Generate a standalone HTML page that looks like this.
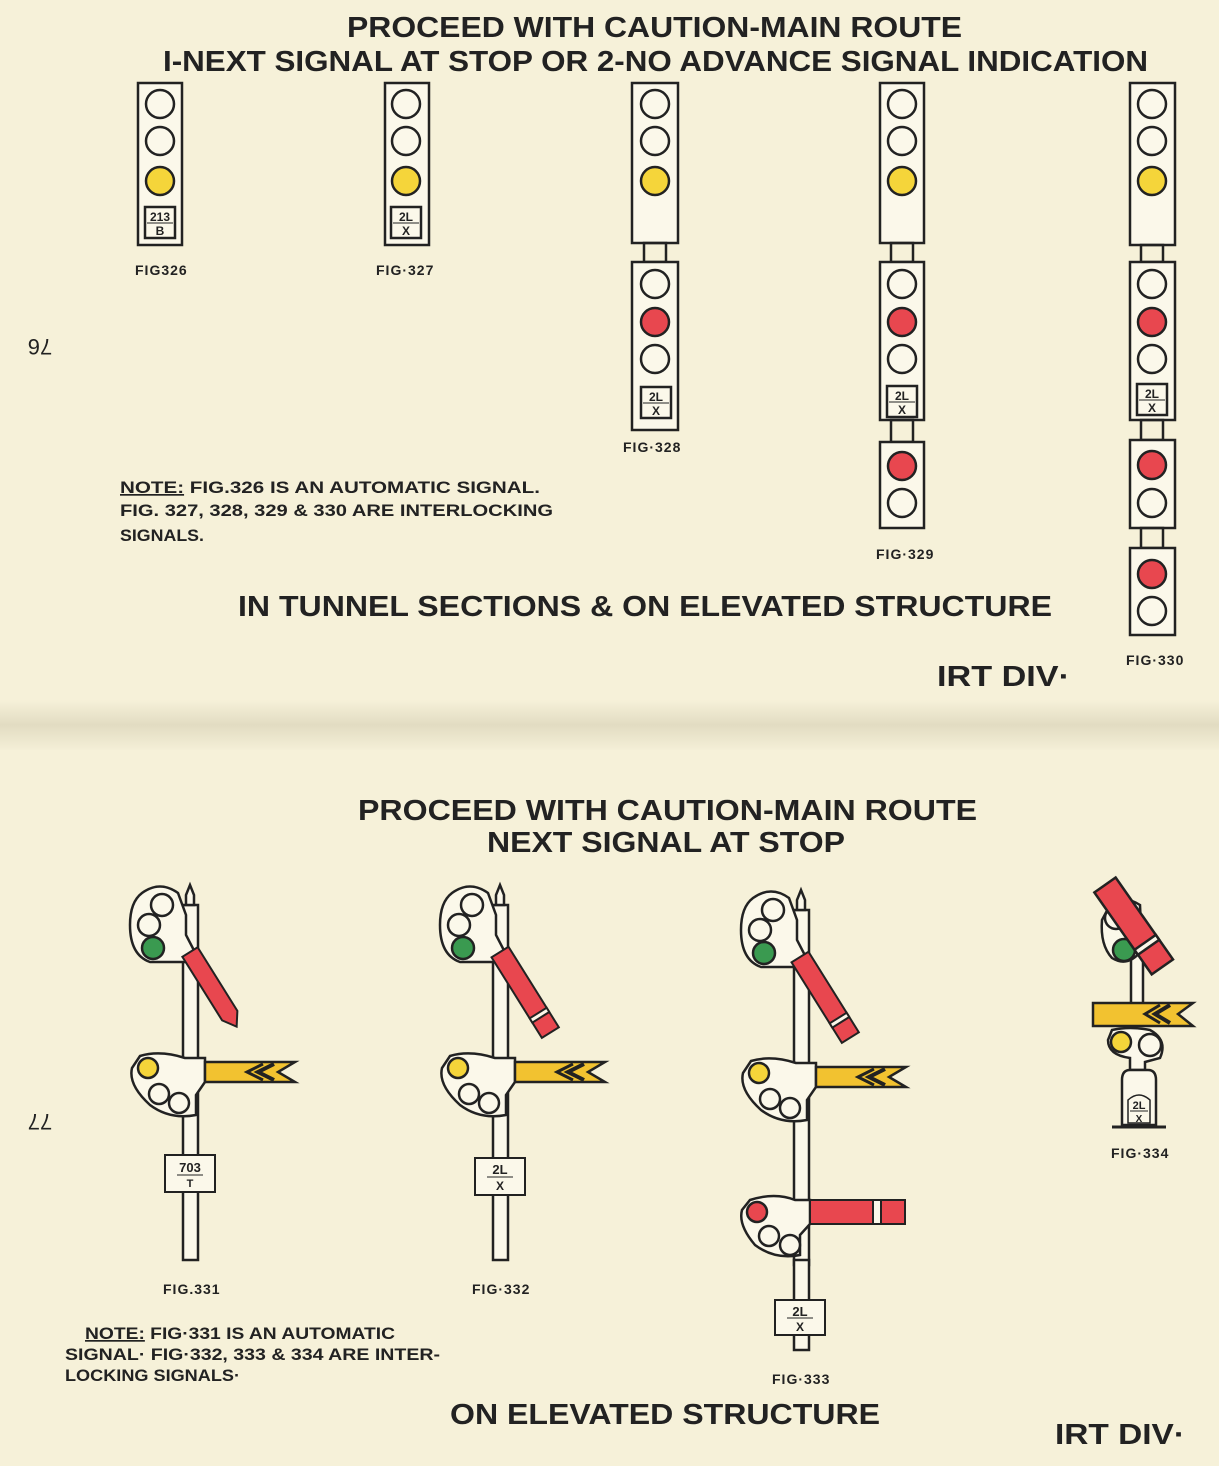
<!DOCTYPE html>
<html><head><meta charset="utf-8"><style>
html,body{margin:0;padding:0;background:#f6f1d9;}
svg{display:block}
text{font-family:"Liberation Sans",sans-serif;fill:#222;}
.t{font-size:29px;font-weight:bold}
.f{font-size:14px;font-weight:bold;letter-spacing:1px}
.n{font-size:17px;font-weight:bold}
</style></head><body>
<svg width="1219" height="1466" viewBox="0 0 1219 1466" xmlns="http://www.w3.org/2000/svg">
<defs>
<linearGradient id="fold" x1="0" y1="0" x2="0" y2="1">
<stop offset="0" stop-color="#f6f1d9"/><stop offset="0.5" stop-color="#e2dcc2"/><stop offset="1" stop-color="#f4efd7"/>
</linearGradient>
</defs>
<rect width="1219" height="1466" fill="#f6f1d9"/>
<rect x="0" y="700" width="1219" height="50" fill="url(#fold)"/>
<g fill="none" stroke="#222" stroke-width="2.5">
<rect x="138" y="83" width="44" height="162" fill="#fbf8ea"/>
<circle cx="160" cy="104" r="14"/><circle cx="160" cy="141" r="14"/>
<circle cx="160" cy="181" r="14" fill="#f5d53a"/>
<rect x="145" y="207" width="30" height="31"/>
<rect x="385" y="83" width="44" height="162" fill="#fbf8ea"/>
<circle cx="406" cy="104" r="14"/><circle cx="406" cy="141" r="14"/>
<circle cx="406" cy="181" r="14" fill="#f5d53a"/>
<rect x="391" y="207" width="30" height="31"/>
<rect x="632" y="83" width="46" height="160" fill="#fbf8ea"/>
<circle cx="655" cy="104" r="14"/><circle cx="655" cy="141" r="14"/>
<circle cx="655" cy="181" r="14" fill="#f5d53a"/>
<rect x="644" y="243" width="22" height="19"/>
<rect x="632" y="262" width="46" height="168" fill="#fbf8ea"/>
<circle cx="655" cy="284" r="14"/><circle cx="655" cy="322" r="14" fill="#e8474f"/>
<circle cx="655" cy="359" r="14"/>
<rect x="641" y="387" width="30" height="31"/>
<rect x="880" y="83" width="44" height="160" fill="#fbf8ea"/>
<circle cx="902" cy="104" r="14"/><circle cx="902" cy="141" r="14"/>
<circle cx="902" cy="181" r="14" fill="#f5d53a"/>
<rect x="891" y="243" width="22" height="19"/>
<rect x="880" y="262" width="44" height="158" fill="#fbf8ea"/>
<circle cx="902" cy="284" r="14"/><circle cx="902" cy="322" r="14" fill="#e8474f"/>
<circle cx="902" cy="359" r="14"/>
<rect x="887" y="386" width="30" height="31"/>
<rect x="891" y="420" width="22" height="22"/>
<rect x="880" y="442" width="44" height="86" fill="#fbf8ea"/>
<circle cx="902" cy="466" r="14" fill="#e8474f"/><circle cx="902" cy="503" r="14"/>
<rect x="1130" y="83" width="45" height="162" fill="#fbf8ea"/>
<circle cx="1152" cy="104" r="14"/><circle cx="1152" cy="141" r="14"/>
<circle cx="1152" cy="181" r="14" fill="#f5d53a"/>
<rect x="1141" y="245" width="22" height="17"/>
<rect x="1130" y="262" width="45" height="158" fill="#fbf8ea"/>
<circle cx="1152" cy="284" r="14"/><circle cx="1152" cy="322" r="14" fill="#e8474f"/>
<circle cx="1152" cy="359" r="14"/>
<rect x="1137" y="384" width="30" height="31"/>
<rect x="1141" y="420" width="22" height="20"/>
<rect x="1130" y="440" width="45" height="88" fill="#fbf8ea"/>
<circle cx="1152" cy="465" r="14" fill="#e8474f"/><circle cx="1152" cy="503" r="14"/>
<rect x="1141" y="528" width="22" height="20"/>
<rect x="1130" y="548" width="45" height="87" fill="#fbf8ea"/>
<circle cx="1152" cy="574" r="14" fill="#e8474f"/><circle cx="1152" cy="611" r="14"/>
</g>
<g font-size="12" font-weight="bold" text-anchor="middle">
<text x="160" y="221">213</text><line x1="147" y1="223" x2="173" y2="223" stroke="#222"/><text x="160" y="235">B</text>
<text x="406" y="221">2L</text><line x1="393" y1="223" x2="419" y2="223" stroke="#222"/><text x="406" y="235">X</text>
<text x="656" y="401">2L</text><line x1="643" y1="403" x2="669" y2="403" stroke="#222"/><text x="656" y="415">X</text>
<text x="902" y="400">2L</text><line x1="889" y1="402" x2="915" y2="402" stroke="#222"/><text x="902" y="414">X</text>
<text x="1152" y="398">2L</text><line x1="1139" y1="400" x2="1165" y2="400" stroke="#222"/><text x="1152" y="412">X</text>
</g>
<text class="t" x="347" y="37" textLength="615" lengthAdjust="spacingAndGlyphs">PROCEED WITH CAUTION-MAIN ROUTE</text>
<text class="t" x="163" y="71" textLength="985" lengthAdjust="spacingAndGlyphs">I-NEXT SIGNAL AT STOP OR 2-NO ADVANCE SIGNAL INDICATION</text>
<text class="f" x="135" y="275">FIG326</text>
<text class="f" x="376" y="275">FIG·327</text>
<text class="f" x="623" y="452">FIG·328</text>
<text class="f" x="876" y="559">FIG·329</text>
<text class="f" x="1126" y="665">FIG·330</text>
<text class="n" x="120" y="493" textLength="420" lengthAdjust="spacingAndGlyphs"><tspan text-decoration="underline">NOTE:</tspan> FIG.326 IS AN AUTOMATIC SIGNAL.</text>
<text class="n" x="120" y="516" textLength="433" lengthAdjust="spacingAndGlyphs">FIG. 327, 328, 329 &amp; 330 ARE INTERLOCKING</text>
<text class="n" x="120" y="541" textLength="84" lengthAdjust="spacingAndGlyphs">SIGNALS.</text>
<text class="t" x="238" y="616" textLength="814" lengthAdjust="spacingAndGlyphs">IN TUNNEL SECTIONS &amp; ON ELEVATED STRUCTURE</text>
<text class="t" x="937" y="686" textLength="133" lengthAdjust="spacingAndGlyphs">IRT DIV·</text>
<text x="40" y="345" font-size="22" transform="rotate(180 40 345)" text-anchor="middle" dominant-baseline="middle">76</text>

<text class="t" x="358" y="820" textLength="619" lengthAdjust="spacingAndGlyphs">PROCEED WITH CAUTION-MAIN ROUTE</text>
<text class="t" x="487" y="852" textLength="358" lengthAdjust="spacingAndGlyphs">NEXT SIGNAL AT STOP</text>
<text x="40" y="1120" font-size="22" transform="rotate(180 40 1120)" text-anchor="middle" dominant-baseline="middle">77</text>

<g id="s331" stroke="#222" stroke-width="2.5">
<rect x="183" y="905" width="15" height="355" fill="#fbf8ea"/>
<path d="M186,905 L186,895 L190,885 L194,895 L194,905 Z" fill="#fbf8ea"/>
<path d="M142,893 Q160,880 178,893 L186,915 L186,935 L200,962 L150,962 Q130,955 130,925 Q130,902 142,893 Z" fill="#fbf8ea"/>
<circle cx="162" cy="905" r="11" fill="#fbf8ea"/>
<circle cx="149" cy="925" r="11" fill="#fbf8ea"/>
<circle cx="153" cy="948" r="11" fill="#3a9a50"/>
<path d="M140,1056 Q160,1050 185,1058 L205,1058 L205,1082 L196,1095 L196,1115 Q170,1120 150,1105 Q128,1085 132,1068 Z" fill="#fbf8ea"/>
<circle cx="148" cy="1068" r="10" fill="#f5d53a"/>
<circle cx="159" cy="1094" r="10" fill="#fbf8ea"/>
<circle cx="179" cy="1103" r="10" fill="#fbf8ea"/>
<path d="M205,1062 L295,1062 L278,1072 L295,1082 L205,1082 Z" fill="#f2c230"/>
<polyline points="274,1064 258,1072 274,1080" fill="none" stroke-width="4"/>
<polyline points="263,1064 247,1072 263,1080" fill="none" stroke-width="3"/>
</g>
<g stroke="#222" stroke-width="2">
<path d="M0,-9 L75,-9 L88,0 L75,9 L0,9 Z" fill="#e8474f" transform="translate(190,952) rotate(58)"/>
<rect x="165" y="1155" width="50" height="37" fill="#fbf8ea"/>
</g>
<text x="190" y="1172" font-size="13" font-weight="bold" text-anchor="middle">703</text>
<line x1="177" y1="1175" x2="203" y2="1175" stroke="#222"/>
<text x="190" y="1187" font-size="11" font-weight="bold" text-anchor="middle">T</text>
<text class="f" x="163" y="1294">FIG.331</text>

<use href="#s331" transform="translate(310,0)"/>
<g stroke="#222" stroke-width="2">
<rect x="0" y="-10" width="95" height="20" fill="#e8474f" transform="translate(500,952) rotate(58)"/>
<rect x="72" y="-10" width="5" height="20" fill="#fbf8ea" transform="translate(500,952) rotate(58)"/>
<rect x="475" y="1158" width="50" height="37" fill="#fbf8ea"/>
</g>
<text x="500" y="1174" font-size="13" font-weight="bold" text-anchor="middle">2L</text>
<line x1="487" y1="1177" x2="513" y2="1177" stroke="#222"/>
<text x="500" y="1190" font-size="12" font-weight="bold" text-anchor="middle">X</text>
<text class="f" x="472" y="1294">FIG·332</text>

<use href="#s331" transform="translate(611,5)"/>
<g stroke="#222" stroke-width="2.5">
<rect x="794" y="1260" width="15" height="90" fill="#fbf8ea"/>
<path d="M750,1200 Q775,1192 795,1200 L810,1200 L810,1224 L800,1235 L800,1255 Q775,1260 755,1245 Q738,1225 742,1210 Z" fill="#fbf8ea"/>
<circle cx="757" cy="1212" r="10" fill="#e8474f"/>
<circle cx="769" cy="1236" r="10" fill="#fbf8ea"/>
<circle cx="790" cy="1245" r="10" fill="#fbf8ea"/>
</g>
<g stroke="#222" stroke-width="2">
<rect x="810" y="1200" width="95" height="24" fill="#e8474f"/>
<rect x="873" y="1200" width="8" height="24" fill="#fbf8ea"/>
<rect x="0" y="-10" width="95" height="20" fill="#e8474f" transform="translate(800,957) rotate(58)"/>
<rect x="72" y="-10" width="5" height="20" fill="#fbf8ea" transform="translate(800,957) rotate(58)"/>
<rect x="775" y="1300" width="50" height="35" fill="#fbf8ea"/>
</g>
<text x="800" y="1316" font-size="13" font-weight="bold" text-anchor="middle">2L</text>
<line x1="787" y1="1318" x2="813" y2="1318" stroke="#222"/>
<text x="800" y="1331" font-size="12" font-weight="bold" text-anchor="middle">X</text>
<text class="f" x="772" y="1384">FIG·333</text>

<g stroke="#222" stroke-width="2.5">
<rect x="1131" y="945" width="12" height="60" fill="#fbf8ea"/>
<path d="M1110,905 Q1125,895 1140,905 L1142,950 Q1128,968 1112,958 Q1100,945 1102,920 Z" fill="#fbf8ea"/>
<circle cx="1116" cy="918" r="11" fill="#fbf8ea"/>
<circle cx="1124" cy="950" r="11" fill="#3a9a50"/>
<rect x="0" y="-13" width="100" height="26" fill="#e8474f" transform="translate(1105,885) rotate(55)"/>
<rect x="70" y="-13" width="6" height="26" fill="#fbf8ea" transform="translate(1105,885) rotate(55)"/>
<path d="M1093,1003 L1193,1003 L1178,1014 L1193,1026 L1093,1026 Z" fill="#f2c230"/>
<polyline points="1170,1005 1155,1014 1170,1023" fill="none" stroke-width="4"/>
<polyline points="1160,1005 1145,1014 1160,1023" fill="none" stroke-width="3"/>
<path d="M1112,1030 Q1130,1026 1150,1030 Q1168,1040 1160,1058 L1145,1062 L1145,1070 L1130,1070 L1130,1058 Q1108,1055 1108,1040 Z" fill="#fbf8ea"/>
<circle cx="1121" cy="1042" r="10" fill="#f5d53a"/>
<circle cx="1150" cy="1045" r="11" fill="#fbf8ea"/>
<path d="M1122,1125 L1122,1080 Q1122,1070 1130,1070 L1148,1070 Q1156,1070 1156,1080 L1156,1125 Z" fill="#fbf8ea"/>
<line x1="1112" y1="1127" x2="1166" y2="1127" stroke-width="3"/>
<path d="M1128,1123 L1128,1100 Q1139,1090 1150,1100 L1150,1123 Z" fill="none" stroke-width="1.5"/>
</g>
<text x="1139" y="1109" font-size="11" font-weight="bold" text-anchor="middle">2L</text>
<line x1="1130" y1="1111" x2="1148" y2="1111" stroke="#222"/>
<text x="1139" y="1122" font-size="10" font-weight="bold" text-anchor="middle">X</text>
<text class="f" x="1111" y="1158">FIG·334</text>

<text class="n" x="85" y="1339" textLength="310" lengthAdjust="spacingAndGlyphs"><tspan text-decoration="underline">NOTE:</tspan> FIG·331 IS AN AUTOMATIC</text>
<text class="n" x="65" y="1360" textLength="375" lengthAdjust="spacingAndGlyphs">SIGNAL· FIG·332, 333 &amp; 334 ARE INTER-</text>
<text class="n" x="65" y="1381" textLength="175" lengthAdjust="spacingAndGlyphs">LOCKING SIGNALS·</text>
<text class="t" x="450" y="1424" textLength="430" lengthAdjust="spacingAndGlyphs">ON ELEVATED STRUCTURE</text>
<text class="t" x="1055" y="1444" textLength="130" lengthAdjust="spacingAndGlyphs">IRT DIV·</text>
</svg>
</body></html>
